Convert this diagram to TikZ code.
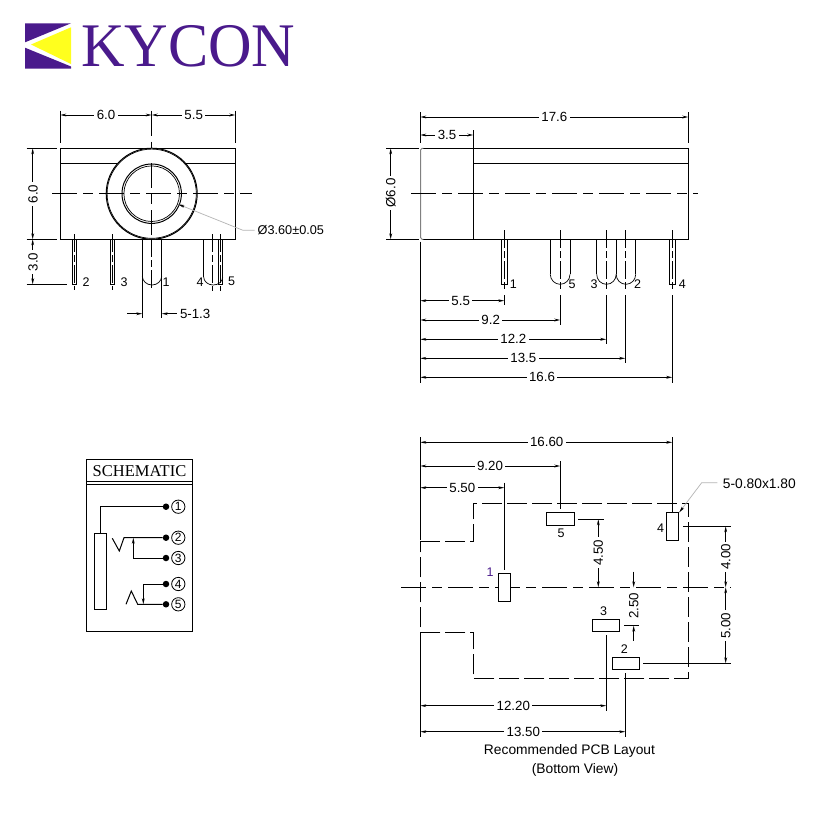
\documentclass[tikz,border=0pt]{standalone}
\usepackage{fontspec}
\setmainfont{Liberation Sans}
\newfontfamily\logofont{Liberation Serif}
\usetikzlibrary{arrows.meta, positioning}
\definecolor{kyconpurple}{HTML}{4A1A8C}
\definecolor{kyconyellow}{HTML}{FFFF1E}
\definecolor{leadergray}{HTML}{B4B4B4}

\begin{document}
\begin{tikzpicture}[
  x=1pt, y=-1pt,
  font=\fontsize{13.3}{15}\selectfont,
  part/.style={line width=1pt},
  thinline/.style={line width=1pt},
  curve/.style={line width=0.7pt},
  centerline/.style={line width=1pt, dash pattern=on 25pt off 6pt on 10pt off 6pt},
  pinaxis/.style={line width=1pt, dash pattern=on 18pt off 3pt on 7pt off 3pt},
  outline/.style={line width=1pt, dash pattern=on 20pt off 5pt},
  dimline/.style={line width=0.9pt, {Stealth[length=6pt,width=2.8pt]}-{Stealth[length=6pt,width=2.8pt]}},
  arrowline/.style={line width=0.9pt, -{Stealth[length=6pt,width=2.8pt]}},
  leader/.style={line width=0.7pt, leadergray},
  dimtext/.style={fill=white, inner sep=2.5pt},
  dimtextv/.style={fill=white, inner sep=2.5pt, rotate=90},
  pinno/.style={font=\fontsize{12.5}{14}\selectfont, inner sep=0pt},
  dot/.style={circle, fill=black, inner sep=0pt, minimum size=6.5pt},
  pinring/.style={circle, draw, line width=0.8pt, inner sep=0pt, minimum size=13.3pt, font=\fontsize{12}{14}\selectfont}]

\useasboundingbox (0,0) rectangle (820,820);
\fill[white] (0,0) rectangle (820,820);

% Logo
\fill[kyconpurple] (25,23.3) -- (71,23.3) -- (25,42.3) -- cycle;
\fill[kyconpurple] (25,47.7) -- (71,66.5) -- (71,68.7) -- (25,68.7) -- cycle;
\fill[kyconyellow] (31,44.5) -- (71,27.3) -- (71,64) -- cycle;
\node[anchor=west, inner sep=0pt, text=kyconpurple, xscale=0.972, font=\logofont\fontsize{62}{62}\selectfont] (logotext) at (81,46) {KYCON};

% Front view
\coordinate (FL) at (60.3,148.3); \coordinate (FR) at (235.3,239.3);
\coordinate (FC) at (151.7,193.7);
\draw[part] (FL) rectangle (FR);
\draw[part] (60.3,163) -- (235.3,163);
\fill[white] (FC) circle (45.5);
\draw[part] (FC) circle (45.5);
\draw[line width=0.7pt] (FC) circle (44.6);
\draw[part] (FC) circle (29.7);
\draw[line width=0.7pt] (FC) circle (27.8);
\draw[centerline] (52,193.7) -- (252,193.7);
\draw[centerline] (151.7,110.7) -- (151.7,148.3);
\draw[centerline] (151.7,163) -- (151.7,238);

% Front view pins
\draw[part] (72.7,239.3) rectangle (76.7,284.3);
\draw[pinaxis] (74.7,234) -- (74.7,290);
\draw[part] (110.3,239.3) rectangle (114.7,284.3);
\draw[pinaxis] (112.5,234) -- (112.5,290);
\draw[part] (142.3,239.3) -- (142.3,318);
\draw[part] (161.7,239.3) -- (161.7,318);
\draw[curve] (142.3,276) arc[start angle=180, end angle=360, x radius=9.7, y radius=-9];
\draw[pinaxis] (151.7,239.3) -- (151.7,291);
\draw[part] (203.7,239.3) -- (203.7,277);
\draw[curve] (203.7,277) arc[start angle=180, end angle=360, x radius=9.5, y radius=-8];
\draw[part] (218.3,239.3) rectangle (222.7,284.3);
\draw[pinaxis] (212.3,234) -- (212.3,291);
\draw[pinaxis] (220.3,234) -- (220.3,291);
\node[pinno] (fp2) at (86,281.7) {2};
\node[pinno] (fp3) at (124,281.7) {3};
\node[pinno] (fp1) at (166,281.7) {1};
\node[pinno] (fp4) at (200,281.7) {4};
\node[pinno] (fp5) at (231.7,281.7) {5};

% Front view dimensions
\draw[thinline] (60.3,110.7) -- (60.3,143.3);
\draw[thinline] (235.3,110.7) -- (235.3,143.3);
\draw[dimline] (60.3,115) -- (151.7,115);
\draw[dimline] (151.7,115) -- (235.3,115);
\node[dimtext] (fw6) at (106,115) {6.0};
\node[dimtext] (fw5) at (193.7,115) {5.5};
\draw[thinline] (26.7,148.3) -- (56.7,148.3);
\draw[thinline] (26.7,239.3) -- (56.7,239.3);
\draw[thinline] (26.7,284.3) -- (67,284.3);
\draw[dimline] (32.7,148.3) -- (32.7,239.3);
\draw[dimline] (32.7,239.3) -- (32.7,284.3);
\node[dimtextv] (fh6) at (33,194) {6.0};
\node[dimtextv] (fh3) at (33,262) {3.0};
\draw[arrowline] (127,313.7) -- (142.3,313.7);
\draw[arrowline] (176.5,313.7) -- (161.7,313.7);
\node[anchor=west, inner sep=0pt] (fpin) at (179.8,313.7) {5-1.3};
\node[anchor=west, inner sep=0pt, font=\fontsize{12.7}{15}\selectfont] (fbore) at (257.5,230) {Ø3.60±0.05};
\coordinate (fboretip) at (178.3,204.3);
\coordinate (fboreend) at (254.5,230.3);
\draw[leader] (fboreend) -- (243,230.3) -- (fboretip);
\draw[arrowline] ([shift={(5.5,2.1)}]fboretip) -- (fboretip);

% Side view
\draw[part] (423.3,148.3) -- (688.3,148.3) -- (688.3,239.3) -- (423.3,239.3);
\draw[part] (473.3,148.3) -- (473.3,239.3);
\draw[part] (473.3,163) -- (688.3,163);
\draw[line width=0.9pt, gray] (423.3,148.3) -- (422,148.3) -- (420.6,150) -- (420.6,237.6) -- (422,239.3) -- (423.3,239.3);
\draw[centerline] (411,193.5) -- (698.3,193.5);

% Side view pins
\draw[part] (501.7,239.3) rectangle (507.3,284.3);
\draw[pinaxis] (504.3,230) -- (504.3,291);
\draw[part] (550.3,239.3) -- (550.3,274.3);
\draw[part] (570,274.3) -- (570,239.3);
\draw[curve] (550.3,274.3) arc[start angle=180, end angle=360, x radius=9.85, y radius=-10];
\draw[pinaxis] (560.3,230) -- (560.3,291);
\draw[part] (596.7,239.3) -- (596.7,274.3);
\draw[curve] (596.7,274.3) arc[start angle=180, end angle=360, x radius=9.75, y radius=-10];
\draw[line width=1.4pt] (616.2,239.3) -- (616.2,274.3);
\draw[curve] (616.2,274.3) arc[start angle=180, end angle=360, x radius=9.75, y radius=-10];
\draw[part] (635.7,274.3) -- (635.7,239.3);
\draw[pinaxis] (606.3,230) -- (606.3,291);
\draw[pinaxis] (625.3,230) -- (625.3,291);
\draw[part] (669.3,239.3) rectangle (675.7,284.3);
\draw[pinaxis] (672.3,230) -- (672.3,291);
\node[pinno] (sp1) at (513.3,284) {1};
\node[pinno] (sp5) at (572,284) {5};
\node[pinno] (sp3) at (594,284) {3};
\node[pinno] (sp2) at (637.7,284) {2};
\node[pinno] (sp4) at (682.3,284) {4};

% Side view dimensions
\draw[thinline] (420.3,112.3) -- (420.3,143.3);
\draw[thinline] (688.3,112.3) -- (688.3,143.3);
\draw[thinline] (473.3,130) -- (473.3,148.3);
\draw[thinline] (420.3,241.7) -- (420.3,382.7);
\draw[thinline] (386,148.3) -- (419,148.3);
\draw[thinline] (386,239.3) -- (419,239.3);
\draw[dimline] (420.3,117) -- (688.3,117);
\draw[dimline] (420.3,135) -- (473.3,135);
\draw[dimline] (390.7,148.3) -- (390.7,239.3);
\node[dimtext] (s176) at (554.3,117) {17.6};
\node[dimtext] (s35) at (447,135) {3.5};
\node[dimtextv] (sd6) at (390.7,193) {Ø6.0};
\draw[thinline] (504.3,295) -- (504.3,305);
\draw[thinline] (560.3,295) -- (560.3,325);
\draw[thinline] (606.3,295) -- (606.3,344);
\draw[thinline] (625.3,295) -- (625.3,363);
\draw[thinline] (672.3,295) -- (672.3,382.7);
\draw[dimline] (420.3,300.7) -- (504.3,300.7);
\draw[dimline] (420.3,320) -- (560.3,320);
\draw[dimline] (420.3,339.3) -- (606.3,339.3);
\draw[dimline] (420.3,358.3) -- (625.3,358.3);
\draw[dimline] (420.3,377.3) -- (672.3,377.3);
\node[dimtext] (s55) at (460.7,300.7) {5.5};
\node[dimtext] (s92) at (490.7,320) {9.2};
\node[dimtext] (s122) at (513.3,339.3) {12.2};
\node[dimtext] (s135) at (523.3,358.3) {13.5};
\node[dimtext] (s166) at (542,377.3) {16.6};

% Schematic
\draw[part] (86,459) rectangle (192.3,631.7);
\draw[part] (86,481) -- (192.3,481);
\draw[part] (86,484) -- (192.3,484);
\node[inner sep=0pt, font=\logofont\fontsize{16.5}{18}\selectfont] (schematic) at (139.5,471) {SCHEMATIC};
\draw[part] (94.3,533.3) rectangle (106.7,609.7);
\node[pinring] (r1) at (178.3,506.7) {1};
\node[pinring] (r2) at (178.3,537.7) {2};
\node[pinring] (r3) at (178.3,558) {3};
\node[pinring] (r4) at (178.3,584) {4};
\node[pinring] (r5) at (178.3,604.3) {5};
\node[dot] (d1) at (166,506.7) {};
\node[dot] (d2) at (166,537.7) {};
\node[dot] (d3) at (166,558) {};
\node[dot] (d4) at (166,584) {};
\node[dot] (d5) at (166,604.3) {};
\draw[part] (100.3,533.3) -- (100.3,506.7) -- (d1);
\draw[part] (112.3,538.3) -- (119.3,551) -- (124,537.7) -- (d2);
\draw[part] (d3) -- (133.3,558) -- (133.3,545);
\draw[arrowline] (133.3,548) -- (133.3,537.7);
\draw[part] (126,604.3) -- (131.3,591) -- (137.7,604.3) -- (d5);
\draw[part] (d4) -- (143.3,584) -- (143.3,595);
\draw[arrowline] (143.3,592) -- (143.3,604.3);

% PCB layout
\draw[outline] (420.3,541.3) -- (473.3,541.3) -- (473.3,503.3) -- (688.3,503.3) -- (688.3,678.3) -- (473.3,678.3) -- (473.3,632.3) -- (420.3,632.3) -- (420.3,541.3);
\draw[centerline] (401,587.3) -- (730.7,587.3);
\fill[white] (498.3,573.3) rectangle (510.7,601.7);
\draw[part] (498.3,573.3) rectangle (510.7,601.7);
\draw[part] (546.3,512.3) rectangle (574.7,525.7);
\draw[part] (666.3,512.3) rectangle (678.7,540.7);
\draw[part] (592.3,619.3) rectangle (619.7,631.7);
\draw[part] (612.3,657.3) rectangle (639.7,669.7);
\node[pinno, text=kyconpurple] (pp1) at (490,571.7) {1};
\node[pinno] (pp5) at (561,533.7) {5};
\node[pinno] (pp4) at (660.7,527.7) {4};
\node[pinno] (pp3) at (603.7,610.7) {3};
\node[pinno] (pp2) at (624.3,648.7) {2};

% PCB dimensions
\draw[thinline] (420.3,437.3) -- (420.3,540);
\draw[thinline] (420.3,633) -- (420.3,736.7);
\draw[thinline] (672.3,437.3) -- (672.3,512.3);
\draw[thinline] (560.3,461) -- (560.3,509);
\draw[thinline] (504.3,482.7) -- (504.3,570);
\draw[thinline] (606.3,635) -- (606.3,711);
\draw[thinline] (625.3,673.3) -- (625.3,736.7);
\draw[thinline] (578.3,519.3) -- (604,519.3);
\draw[thinline] (683.3,526.3) -- (730.7,526.3);
\draw[thinline] (643,663.3) -- (730.7,663.3);
\draw[thinline] (624.3,625.7) -- (638.7,625.7);
\draw[dimline] (420.3,442.3) -- (672.3,442.3);
\draw[dimline] (420.3,466) -- (560.3,466);
\draw[dimline] (420.3,487.7) -- (504.3,487.7);
\draw[dimline] (420.3,705.7) -- (606.3,705.7);
\draw[dimline] (420.3,731.7) -- (625.3,731.7);
\draw[dimline] (598.3,519.3) -- (598.3,587.3);
\draw[dimline] (725.7,526.3) -- (725.7,587.3);
\draw[dimline] (725.7,587.3) -- (725.7,663.3);
\draw[arrowline] (633.7,571.7) -- (633.7,587.3);
\draw[arrowline] (633.7,640.7) -- (633.7,625.7);
\node[dimtext] (p166) at (546.7,442.3) {16.60};
\node[dimtext] (p92) at (490,466) {9.20};
\node[dimtext] (p55) at (462.3,487.7) {5.50};
\node[dimtext] (p122) at (513.3,705.7) {12.20};
\node[dimtext] (p135) at (523.3,731.7) {13.50};
\node[dimtextv] (p45) at (598.3,552.7) {4.50};
\node[dimtextv] (p4) at (725.7,557) {4.00};
\node[dimtextv] (p5) at (725.7,625.7) {5.00};
\node[dimtextv] (p25) at (633.7,606) {2.50};
\node[anchor=west, inner sep=0pt, font=\fontsize{13.8}{15}\selectfont] (ppad) at (722.7,483.7) {5-0.80x1.80};
\coordinate (ppadtip) at (679.3,512.3);
\coordinate (ppadend) at (717.3,482.7);
\draw[leader] (ppadend) -- (701.7,482.7) -- (ppadtip);
\draw[arrowline] ([shift={(3.4,-4.4)}]ppadtip) -- (ppadtip);
\node[inner sep=0pt, font=\fontsize{13.8}{15}\selectfont] (caption1) at (569.5,750.5) {Recommended PCB Layout};
\node[inner sep=0pt, font=\fontsize{13.8}{15}\selectfont] (caption2) at (575,769.5) {(Bottom View)};

\end{tikzpicture}
\end{document}
